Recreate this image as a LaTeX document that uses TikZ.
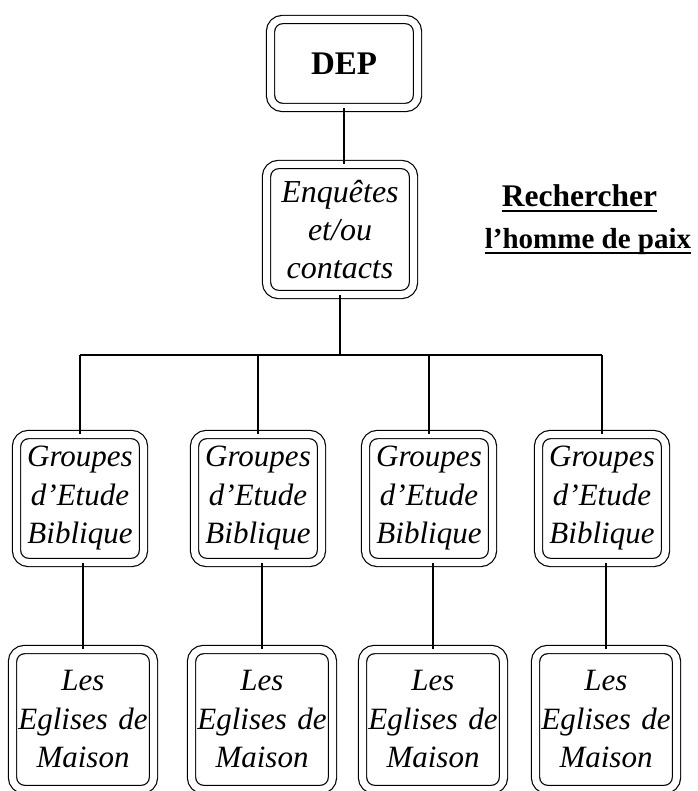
\documentclass[tikz,border=0pt]{standalone}
\usepackage{fontspec}
\setmainfont{Liberation Serif}
\newfontfamily\boxfont{Liberation Serif}[WordSpace=0.6]
\usetikzlibrary{positioning}
\newcommand\myuline[1]{\setbox0\hbox{#1}\rlap{\rule[-5pt]{\wd0}{2pt}}\box0}
\tikzset{dblbox/.style={draw,double,double distance=7pt,line width=1.2pt,rounded corners=12pt,inner sep=0pt,align=center},
  boxtext/.style={font=\boxfont\itshape\fontsize{31}{38.5}\selectfont},
  link/.style={-,line width=1.9pt}}

\begin{document}
\begin{tikzpicture}[x=1pt,y=1pt]
  \useasboundingbox (0,0) rectangle (697,-791);
  \node[dblbox,minimum width=147pt,minimum height=88pt,font=\bfseries\fontsize{33}{38}\selectfont] (dep) at (344,-63.5) {DEP};
  \node[dblbox,boxtext,minimum width=147pt,minimum height=130pt,text width=140pt,font=\itshape\fontsize{32}{38}\selectfont] (enq) at (340,-229.5) {Enquêtes\\et/ou\\contacts};
  \node[align=center,font=\bfseries\fontsize{29}{42}\selectfont] (paix) at (588,-220) {\hspace*{-17pt}{\fontsize{31.5}{42}\selectfont\myuline{Rechercher}}\\\myuline{l’homme de paix}};

  \draw[link] (dep.south) -- (dep.south |- enq.north);
  \coordinate (bar) at (340,-355);
  \draw[link] (enq.south) -- (enq.south |- bar);

  \foreach \gx/\mx [count=\i] in {80/83,258/262,429/433,602/606} {
    \node[dblbox,boxtext,minimum width=127pt,minimum height=128pt,text width=124pt] (g\i) at (\gx,-498.5) {Groupes\\d’Etude\\Biblique};
    \node[dblbox,boxtext,minimum width=141pt,minimum height=140pt,text width=138pt] (m\i) at (\mx,-719.5) {Les\\Eglises de\\Maison};
    \draw[link] (g\i.north) -- (g\i.north |- bar);
    \draw[link] (m\i.north) -- (m\i.north |- g\i.south);
  }
  \draw[link] (g1.north |- bar) -- (g4.north |- bar);
\end{tikzpicture}
\end{document}
